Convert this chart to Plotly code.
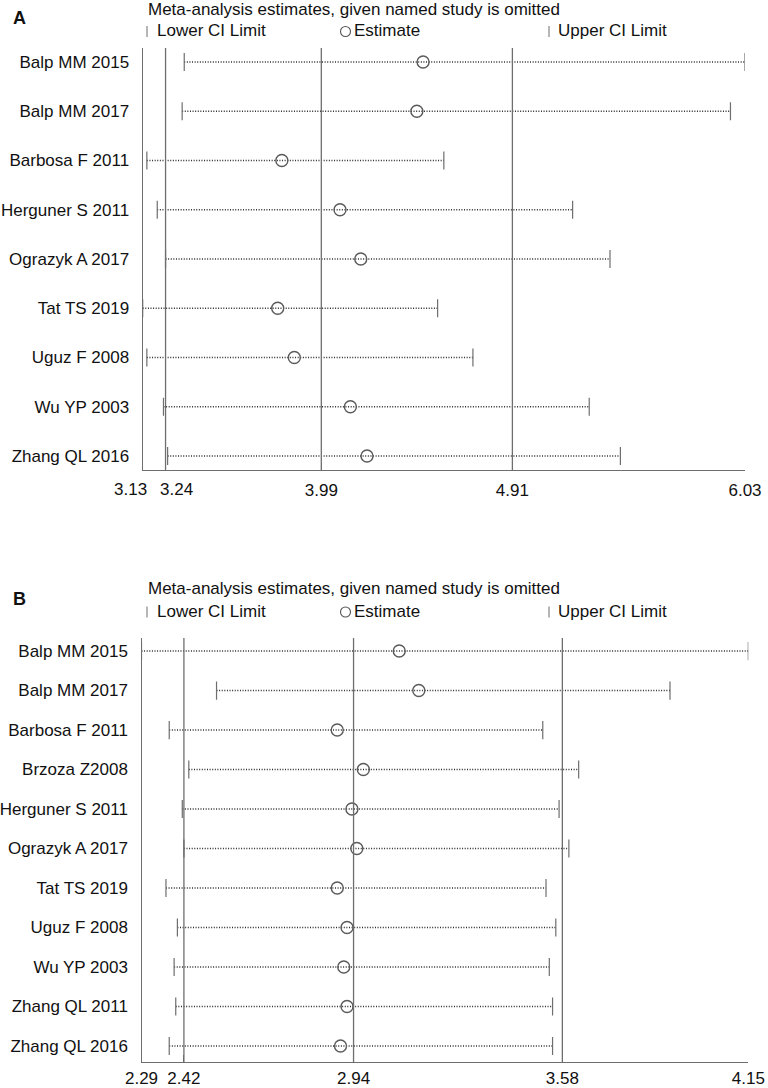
import plotly.graph_objects as go

W, H = 768, 1088

# panel A: study omitted -> pooled estimate and CI
studies_a = ["Balp MM 2015", "Balp MM 2017", "Barbosa F 2011", "Herguner S 2011",
             "Ograzyk A 2017", "Tat TS 2019", "Uguz F 2008", "Wu YP 2003", "Zhang QL 2016"]
lower_a = [3.33, 3.32, 3.15, 3.20, 3.24, 3.13, 3.15, 3.23, 3.25]
est_a = [4.48, 4.45, 3.80, 4.08, 4.18, 3.78, 3.86, 4.13, 4.21]
upper_a = [6.03, 5.96, 4.58, 5.20, 5.38, 4.55, 4.72, 5.28, 5.43]
overall_a = [3.24, 3.99, 4.91]
ticks_a = [3.13, 3.24, 3.99, 4.91, 6.03]

# panel B
studies_b = ["Balp MM 2015", "Balp MM 2017", "Barbosa F 2011", "Brzoza Z2008",
             "Herguner S 2011", "Ograzyk A 2017", "Tat TS 2019", "Uguz F 2008",
             "Wu YP 2003", "Zhang QL 2011", "Zhang QL 2016"]
lower_b = [2.29, 2.52, 2.375, 2.435, 2.415, 2.42, 2.365, 2.40, 2.39, 2.395, 2.375]
est_b = [3.08, 3.14, 2.89, 2.97, 2.935, 2.95, 2.89, 2.92, 2.91, 2.92, 2.90]
upper_b = [4.15, 3.91, 3.52, 3.63, 3.57, 3.60, 3.53, 3.56, 3.54, 3.55, 3.55]
overall_b = [2.42, 2.94, 3.58]
ticks_b = [2.29, 2.42, 2.94, 3.58, 4.15]

TITLE = "Meta-analysis estimates, given named study is omitted"
FONT = "Arial, Liberation Sans, sans-serif"
LINE = "#6e6e6e"
DOT = "#2a2a2a"
TXT = "#111111"


def px(x):
    return x / W


def py(y):
    return 1 - y / H


fig = go.Figure()


def add_panel(n, studies, lower, est, upper):
    xa, ya = ("x", "y") if n == 1 else ("x2", "y2")
    seg_x, seg_y = [], []
    for s, lo, hi in zip(studies, lower, upper):
        seg_x += [lo, hi, None]
        seg_y += [s, s, None]
    fig.add_trace(go.Scatter(
        x=seg_x, y=seg_y, mode="lines", xaxis=xa, yaxis=ya,
        line=dict(color=DOT, width=1.5, dash="1px,1.6px"), hoverinfo="skip"))
    fig.add_trace(go.Scatter(
        x=lower + upper, y=studies + studies, mode="markers", xaxis=xa, yaxis=ya,
        marker=dict(symbol="line-ns", size=13, color=LINE,
                    line=dict(color=LINE, width=1.2))))
    fig.add_trace(go.Scatter(
        x=est, y=studies, mode="markers", xaxis=xa, yaxis=ya,
        marker=dict(symbol="circle-open", size=12, color="#5a5a5a",
                    line=dict(width=1.4))))


add_panel(1, studies_a, lower_a, est_a, upper_a)
add_panel(2, studies_b, lower_b, est_b, upper_b)

shapes = []
for xref, yref, vals in (("x", "y domain", overall_a), ("x2", "y2 domain", overall_b)):
    for v in vals:
        shapes.append(dict(type="line", xref=xref, yref=yref, x0=v, x1=v, y0=0, y1=1,
                           line=dict(color=LINE, width=1.3)))

annotations = []


def note(x, y, text, size=17, anchor="left"):
    annotations.append(dict(x=px(x), y=py(y), xref="paper", yref="paper", text=text,
                            showarrow=False, xanchor=anchor, yanchor="middle",
                            font=dict(size=size, color=TXT, family=FONT)))


for top, label in ((0, "A"), (580, "B")):
    t_y = top + 9 if label == "A" else top + 8.5
    l_y = top + 31 if label == "A" else top + 31.5
    note(19, top + 18.5, "<b>%s</b>" % label, size=18, anchor="center")
    note(146, t_y, TITLE)
    for x0, txt in ((155, "Lower CI Limit"), (352, "Estimate"), (556, "Upper CI Limit")):
        note(x0, l_y, txt)
    for xb in (147, 549):
        shapes.append(dict(type="line", xref="paper", yref="paper",
                           x0=px(xb), x1=px(xb), y0=py(l_y - 5), y1=py(l_y + 6),
                           line=dict(color=LINE, width=1)))
    shapes.append(dict(type="circle", xref="paper", yref="paper",
                       x0=px(340.5), x1=px(350.5), y0=py(l_y - 4.5), y1=py(l_y + 5.5),
                       line=dict(color="#555555", width=1.1)))

# the two leftmost labels of panel A sit too close to centre on their ticks,
# so they are written beside their ticks instead
ticktext_a = ["%.2f" % v for v in ticks_a]
for v, anchor, shift in ((ticks_a[0], "right", 6), (ticks_a[1], "left", -8)):
    annotations.append(dict(x=v, xref="x", y=0, yref="y domain", text="%.2f" % v,
                            showarrow=False, xanchor=anchor, yanchor="top",
                            xshift=shift, yshift=-8,
                            font=dict(size=17, color=TXT, family=FONT)))
ticktext_a[0] = ticktext_a[1] = ""
ticktext_b = ["%.2f" % v for v in ticks_b]

ax_common = dict(showgrid=False, zeroline=False, showline=True, linecolor=LINE,
                 linewidth=1.3, ticks="inside", ticklen=7, tickcolor=LINE,
                 tickangle=0, automargin=False,
                 tickfont=dict(size=17, color=TXT))
ay_common = dict(type="category", showgrid=False, zeroline=False, showline=True,
                 linecolor=LINE, linewidth=1.3, ticks="", ticklabelstandoff=9,
                 automargin=False, tickfont=dict(size=17, color=TXT))

fig.update_layout(
    width=W, height=H,
    margin=dict(l=0, r=0, t=0, b=0),
    paper_bgcolor="white", plot_bgcolor="white",
    showlegend=False,
    font=dict(family=FONT, color=TXT),
    xaxis=dict(ax_common, domain=[px(142.7), px(745)], range=[ticks_a[0], ticks_a[-1]],
               tickvals=ticks_a, ticktext=ticktext_a, anchor="y", ticklabelstandoff=4),
    yaxis=dict(ay_common, domain=[py(470), py(48)], anchor="x",
               categoryorder="array", categoryarray=studies_a,
               range=[len(studies_a) - 1 + 0.284, -0.284]),
    xaxis2=dict(ax_common, domain=[px(141.5), px(748.3)], range=[ticks_b[0], ticks_b[-1]],
                tickvals=ticks_b, ticktext=ticktext_b, anchor="y2", ticklabelstandoff=0),
    yaxis2=dict(ay_common, domain=[py(1062), py(638)], anchor="x2",
                categoryorder="array", categoryarray=studies_b,
                range=[len(studies_b) - 1 + 0.405, -0.33]),
    shapes=shapes,
    annotations=annotations,
)

# drop the browser's default body margin so the figure sits at the page corner
fig.write_html("out.html", config={"displayModeBar": False},
               post_script="document.body.style.margin = '0px';")
